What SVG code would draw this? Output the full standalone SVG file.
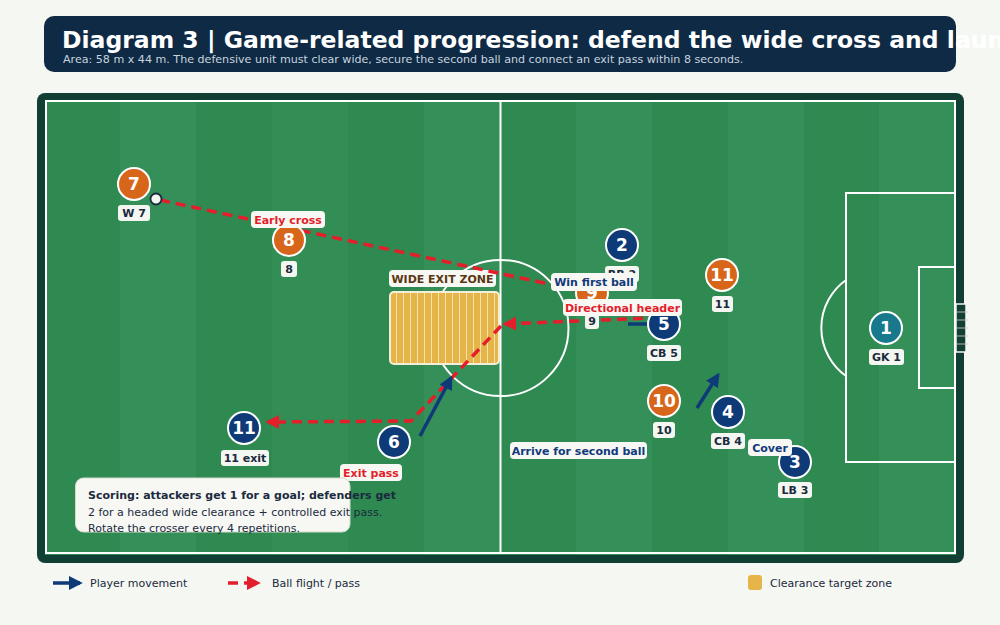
<svg xmlns="http://www.w3.org/2000/svg" width="1000" height="625" viewBox="0 0 1000 625">
<style>
text{font-family:"DejaVu Sans","Liberation Sans",sans-serif}
.num{font-weight:bold;font-size:17px;fill:#fff;text-anchor:middle}
.lbl{fill:#f4f6f1}
.lt{font-weight:bold;font-size:11px;fill:#1b2a3d;text-anchor:middle}
.att{fill:#d8661a;stroke:#fff;stroke-width:2}
.def{fill:#0e3a78;stroke:#fff;stroke-width:2}
.gk{fill:#17798b;stroke:#fff;stroke-width:2}
.pass{fill:none;stroke:#e41e2b;stroke-width:3.5;stroke-dasharray:10 6}
.run{fill:none;stroke:#0e3a78;stroke-width:3.5}
.ln{fill:none;stroke:#fff;stroke-width:2}
.tag{fill:#f7f8f4}
.red{font-weight:bold;font-size:11px;fill:#e41e2b;text-anchor:middle}
.blue{font-weight:bold;font-size:11px;fill:#123a7a;text-anchor:middle}
.leg{font-size:11px;fill:#1b2a3d}
</style>
<defs>
<marker id="ab" viewBox="0 0 10 10" refX="8" refY="5" markerWidth="4" markerHeight="4" orient="auto"><path d="M0,0 L10,5 L0,10 z" fill="#0e3a78"/></marker>
<marker id="ar" viewBox="0 0 10 10" refX="8" refY="5" markerWidth="4" markerHeight="4" orient="auto"><path d="M0,0 L10,5 L0,10 z" fill="#e41e2b"/></marker>
<pattern id="zs" width="7" height="10" patternUnits="userSpaceOnUse" x="390"><rect width="7" height="10" fill="#e5b54a"/><rect x="6" width="1" height="10" fill="#f6e3aa"/></pattern>
</defs>
<rect width="1000" height="625" fill="#f5f7f2"/>
<g id="title">
<rect x="44" y="16" width="912" height="56" rx="10" fill="#0f2a45"/>
<text x="62" y="47.5" font-size="23.5" font-weight="bold" fill="#fff">Diagram 3 | Game-related progression: defend the wide cross and launch</text>
<text x="63" y="63" font-size="11.1" fill="#c7d3df">Area: 58 m x 44 m. The defensive unit must clear wide, secure the second ball and connect an exit pass within 8 seconds.</text>
</g>
<g id="pitch">
<rect x="37" y="93" width="927" height="470" rx="8" fill="#123f33"/>
<rect x="45" y="100" width="911" height="455" fill="#2f8a51"/>
<rect x="120" y="100" width="76" height="455" fill="#358f58"/>
<rect x="272" y="100" width="76" height="455" fill="#338e56"/>
<rect x="424" y="100" width="76" height="455" fill="#358f58"/>
<rect x="576" y="100" width="76" height="455" fill="#358f58"/>
<rect x="728" y="100" width="76" height="455" fill="#358f58"/>
<rect x="879" y="100" width="76" height="455" fill="#358f58"/>
<rect x="46" y="101" width="909" height="452" class="ln"/>
<line x1="500.5" y1="101" x2="500.5" y2="553" class="ln"/>
<circle cx="500.5" cy="328" r="68" class="ln"/>
<rect x="846" y="193" width="109" height="269" class="ln"/>
<rect x="919" y="267" width="36" height="121" class="ln"/>
<path d="M846,280 A59,59 0 0 0 846,376" class="ln"/>
<g id="goal">
<rect x="956" y="304" width="10" height="48" fill="#123f33" stroke="#f4f6f1" stroke-width="1.5"/>
<path d="M957,312 H968 M957,320 H968 M957,328 H968 M957,336 H968 M957,344 H968" stroke="#cfd8d0" stroke-width="0.8"/>
</g>
</g>
<g id="zone">
<rect x="390" y="292" width="109" height="72" rx="4" fill="url(#zs)" stroke="#f5efd9" stroke-width="2"/>
<rect x="389" y="270" width="107" height="17" rx="4" class="tag"/>
<text x="442.5" y="282.5" font-weight="bold" font-size="11" fill="#5c3612" text-anchor="middle">WIDE EXIT ZONE</text>
</g>
<g id="connectors">
<path d="M160,200 L586,292" class="pass"/>
<path d="M675,317 L505,324" class="pass" marker-end="url(#ar)"/>
<path d="M501,326 L411,421 L268,422" class="pass" marker-end="url(#ar)"/>
<path d="M420,436 L451,378" class="run" marker-end="url(#ab)"/>
<path d="M697,408 L718,375" class="run" marker-end="url(#ab)"/>
<path d="M628,324 L654,324" class="run"/>
</g>
<g id="p7"><circle cx="134" cy="184" r="16" class="att"/><text x="134" y="190" class="num">7</text><rect x="118" y="205" width="32" height="16" rx="3" class="lbl"/><text x="134" y="217" class="lt">W 7</text></g>
<g id="ball"><circle cx="156" cy="199" r="5.5" fill="#f4f6f1" stroke="#1b2a3d" stroke-width="1.8"/></g>
<g id="p8"><circle cx="289" cy="240" r="16" class="att"/><text x="289" y="246" class="num">8</text><rect x="281" y="261" width="16" height="16" rx="3" class="lbl"/><text x="289" y="273" class="lt">8</text></g>
<g id="p9"><circle cx="592" cy="293" r="16" class="att"/><text x="592" y="299" class="num">9</text><rect x="585" y="314" width="14" height="15" rx="3" class="lbl"/><text x="592" y="325" class="lt">9</text></g>
<g id="p2"><circle cx="622" cy="245" r="16" class="def"/><text x="622" y="251" class="num">2</text><rect x="605" y="266" width="34" height="16" rx="3" class="lbl"/><text x="622" y="278" class="lt">RB 2</text></g>
<g id="p11a"><circle cx="722" cy="275" r="16" class="att"/><text x="722" y="281" class="num">11</text><rect x="712" y="296" width="21" height="16" rx="3" class="lbl"/><text x="722.5" y="308" class="lt">11</text></g>
<g id="p5"><circle cx="664" cy="324" r="16" class="def"/><text x="664" y="330" class="num">5</text><rect x="647" y="345" width="34" height="16" rx="3" class="lbl"/><text x="664" y="357" class="lt">CB 5</text></g>
<g id="p1"><circle cx="886" cy="328" r="16" class="gk"/><text x="886" y="334" class="num">1</text><rect x="869" y="349" width="35" height="16" rx="3" class="lbl"/><text x="886.5" y="361" class="lt">GK 1</text></g>
<g id="p10"><circle cx="664" cy="401" r="16" class="att"/><text x="664" y="407" class="num">10</text><rect x="653" y="422" width="22" height="16" rx="3" class="lbl"/><text x="664" y="434" class="lt">10</text></g>
<g id="p4"><circle cx="728" cy="412" r="16" class="def"/><text x="728" y="418" class="num">4</text><rect x="711" y="433" width="34" height="16" rx="3" class="lbl"/><text x="728" y="445" class="lt">CB 4</text></g>
<g id="p3"><circle cx="795" cy="462" r="16" class="def"/><text x="795" y="468" class="num">3</text><rect x="778" y="482" width="34" height="16" rx="3" class="lbl"/><text x="795" y="494" class="lt">LB 3</text></g>
<g id="p11"><circle cx="244" cy="428" r="16" class="def"/><text x="244" y="434" class="num">11</text><rect x="221" y="450" width="48" height="16" rx="3" class="lbl"/><text x="245" y="462" class="lt">11 exit</text></g>
<g id="p6"><circle cx="394" cy="442" r="16" class="def"/><text x="394" y="448" class="num">6</text></g>
<g id="tags">
<rect x="251" y="211" width="74" height="17" rx="4" class="tag"/><text x="288" y="223.5" class="red">Early cross</text>
<rect x="551" y="273" width="86" height="18" rx="4" class="tag"/><text x="594" y="286" class="blue">Win first ball</text>
<rect x="563" y="299" width="119" height="17" rx="4" class="tag"/><text x="622.5" y="311.5" class="red">Directional header</text>
<rect x="510" y="442" width="137" height="17" rx="4" class="tag"/><text x="578.5" y="454.5" class="blue">Arrive for second ball</text>
<rect x="748" y="439" width="44" height="17" rx="4" class="tag"/><text x="770" y="451.5" class="blue">Cover</text>
<rect x="340" y="464" width="62" height="17" rx="4" class="tag"/><text x="371" y="476.5" class="red">Exit pass</text>
</g>
<g id="scoring">
<rect x="75.5" y="478" width="274.5" height="54" rx="8" fill="#f7f8f4" stroke="#d3dbcc" stroke-width="1"/>
<text x="88" y="498.5" font-size="11" font-weight="bold" fill="#1b2a3d">Scoring: attackers get 1 for a goal; defenders get</text>
<text x="88" y="515.5" font-size="11" fill="#1b2a3d">2 for a headed wide clearance + controlled exit pass.</text>
<text x="88" y="531.5" font-size="11" fill="#1b2a3d">Rotate the crosser every 4 repetitions.</text>
</g>
<g id="legend">
<path d="M53,583 L80,583" class="run" marker-end="url(#ab)"/>
<text x="90" y="587" class="leg">Player movement</text>
<path d="M228,583 L258,583" class="pass" stroke-dasharray="6 4" marker-end="url(#ar)"/>
<text x="272" y="587" class="leg">Ball flight / pass</text>
<rect x="748" y="575" width="14" height="15" rx="3" fill="#e5b54a"/>
<text x="770" y="587" class="leg">Clearance target zone</text>
</g>
</svg>
